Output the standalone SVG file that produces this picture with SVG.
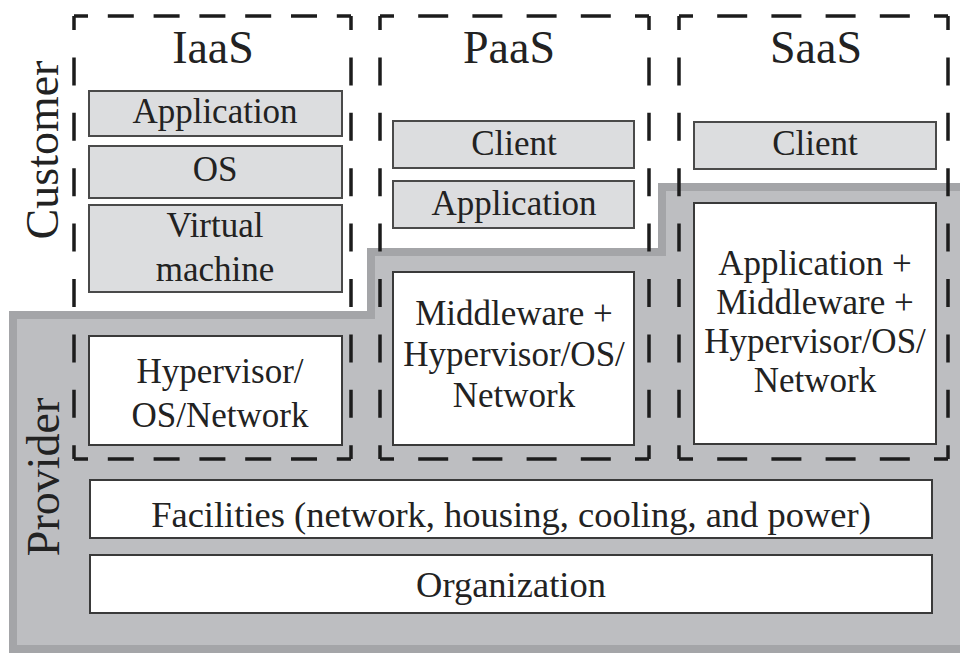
<svg xmlns="http://www.w3.org/2000/svg" width="960" height="653" viewBox="0 0 960 653">
<style>
  text { font-family: "Liberation Serif", "Times New Roman", serif; fill: #222; text-anchor: middle; }
  .title { font-size: 46px; }
  .side { font-size: 46px; }
  .lbl { font-size: 35px; }
  .wide { font-size: 36.5px; }
  .gbox { fill: #dcdddf; stroke: #4a4a4a; stroke-width: 2; }
  .wbox { fill: #ffffff; stroke: #3a3a3a; stroke-width: 2; }
  .dash { stroke: #1c1c1c; stroke-width: 3.5; fill: none; }
</style>
<rect x="0" y="0" width="960" height="653" fill="#ffffff"/>
<g id="provider-area">
  <polygon points="13,315 371,315 371,252 662,252 662,187 966,187 966,649 13,649" fill="#bdbec1" stroke="#a4a5a8" stroke-width="8" stroke-linejoin="miter"/>
</g>
<g id="labels">
  <text class="side" transform="translate(58,150) rotate(-90)">Customer</text>
  <text class="side" transform="translate(59,477) rotate(-90)">Provider</text>
</g>
<g id="iaas">
  <g class="dash">
    <line x1="74" y1="16" x2="351" y2="16" stroke-dasharray="26 19.8" stroke-dashoffset="12"/>
    <line x1="74" y1="459" x2="351" y2="459" stroke-dasharray="26 19.8" stroke-dashoffset="12"/>
    <line x1="74" y1="16" x2="74" y2="459" stroke-dasharray="28 27.4" stroke-dashoffset="14"/>
    <line x1="351" y1="16" x2="351" y2="459" stroke-dasharray="28 27.4" stroke-dashoffset="14"/>
  </g>
  <text class="title" x="213" y="63">IaaS</text>
</g>
<g id="paas">
  <g class="dash">
    <line x1="380" y1="16" x2="649" y2="16" stroke-dasharray="30 24.2" stroke-dashoffset="16"/>
    <line x1="380" y1="459" x2="649" y2="459" stroke-dasharray="30 24.2" stroke-dashoffset="16"/>
    <line x1="380" y1="16" x2="380" y2="459" stroke-dasharray="28 27.4" stroke-dashoffset="14"/>
    <line x1="649" y1="16" x2="649" y2="459" stroke-dasharray="28 27.4" stroke-dashoffset="14"/>
  </g>
  <text class="title" x="509" y="63">PaaS</text>
</g>
<g id="saas">
  <g class="dash">
    <line x1="679" y1="16" x2="948" y2="16" stroke-dasharray="30 24.2" stroke-dashoffset="16"/>
    <line x1="679" y1="459" x2="948" y2="459" stroke-dasharray="30 24.2" stroke-dashoffset="16"/>
    <line x1="679" y1="16" x2="679" y2="459" stroke-dasharray="28 27.4" stroke-dashoffset="14"/>
    <line x1="948" y1="16" x2="948" y2="459" stroke-dasharray="28 27.4" stroke-dashoffset="14"/>
  </g>
  <text class="title" x="816" y="63">SaaS</text>
</g>
<g id="iaas-application">
  <rect class="gbox" x="89" y="91" width="253" height="45"/>
  <text class="lbl" x="215" y="123">Application</text>
</g>
<g id="iaas-os">
  <rect class="gbox" x="89" y="146" width="253" height="52"/>
  <text class="lbl" x="215" y="181">OS</text>
</g>
<g id="iaas-vm">
  <rect class="gbox" x="89" y="205" width="253" height="87"/>
  <text class="lbl" x="215" y="237">Virtual</text>
  <text class="lbl" x="215" y="281">machine</text>
</g>
<g id="iaas-hypervisor">
  <rect class="wbox" x="89" y="336" width="253" height="109"/>
  <text class="lbl" x="220" y="383">Hypervisor/</text>
  <text class="lbl" x="220" y="427">OS/Network</text>
</g>
<g id="paas-client">
  <rect class="gbox" x="393" y="121" width="241" height="47"/>
  <text class="lbl" x="514" y="155">Client</text>
</g>
<g id="paas-application">
  <rect class="gbox" x="393" y="181" width="241" height="47"/>
  <text class="lbl" x="514" y="215">Application</text>
</g>
<g id="paas-middleware">
  <rect class="wbox" x="393" y="272" width="241" height="173"/>
  <text class="lbl" x="514" y="325">Middleware +</text>
  <text class="lbl" x="514" y="366">Hypervisor/OS/</text>
  <text class="lbl" x="514" y="407">Network</text>
</g>
<g id="saas-client">
  <rect class="gbox" x="694" y="122" width="242" height="47"/>
  <text class="lbl" x="815" y="155">Client</text>
</g>
<g id="saas-stack">
  <rect class="wbox" x="694" y="203" width="242" height="241"/>
  <text class="lbl" x="815" y="275">Application +</text>
  <text class="lbl" x="815" y="314">Middleware +</text>
  <text class="lbl" x="815" y="353">Hypervisor/OS/</text>
  <text class="lbl" x="815" y="392">Network</text>
</g>
<g id="facilities">
  <rect class="wbox" x="90" y="480" width="842" height="58"/>
  <text class="wide" x="511" y="527">Facilities (network, housing, cooling, and power)</text>
</g>
<g id="organization">
  <rect class="wbox" x="90" y="555" width="842" height="58"/>
  <text class="wide" x="511" y="597">Organization</text>
</g>
<g id="connectors"></g>
</svg>
